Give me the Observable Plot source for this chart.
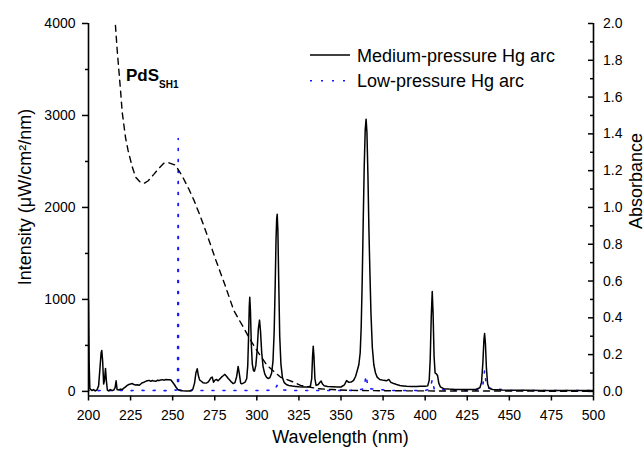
<!DOCTYPE html>
<html>
<head>
<meta charset="utf-8">
<script src="https://cdn.jsdelivr.net/npm/d3@7"></script>
<script src="https://cdn.jsdelivr.net/npm/@observablehq/plot@0.6"></script>
<style>
  html, body { margin: 0; padding: 0; background: #fff; }
  #chart { width: 644px; height: 454px; }
</style>
</head>
<body>
<div id="chart"></div>
<script>
// ---- Medium-pressure Hg arc (wavelength nm, intensity µW/cm²/nm)
const mediumWavelength = [
  200.0, 200.4, 200.8, 202, 203, 204, 205, 206, 206.8, 207.5, 207.9, 208.4, 209.0, 209.5, 210.1, 210.6, 211.2, 212, 213, 214,
  215, 215.8, 216.4, 217.0, 218, 219, 220, 221, 222, 223, 224, 225, 226, 227, 228, 229, 230, 231, 232, 233,
  234, 235, 236, 237, 238, 239, 240, 241, 242, 243, 244, 245, 246, 247, 248, 249, 250, 251, 252, 253,
  254, 255, 256, 258, 260, 261, 262, 263, 263.8, 264.6, 265.3, 266, 267, 268, 269, 270, 271, 272, 272.8, 273.5,
  274.3, 275, 276, 277, 278, 279, 280, 281, 282, 283, 284, 285, 286, 287, 288, 288.9, 289.7, 290.4, 291, 292,
  293, 294, 294.6, 295.1, 295.5, 295.8, 296.2, 296.7, 297.3, 298.0, 298.6, 299.4, 300.2, 300.9, 301.6, 302.2, 302.9, 303.7, 304.7, 305.7,
  306.8, 307.8, 308.8, 309.6, 310.3, 310.9, 311.4, 311.8, 312.1, 312.5, 313.0, 313.6, 314.3, 315.2, 316.3, 317.5, 319, 321, 323, 325,
  327, 330, 331.8, 332.6, 333.1, 333.5, 333.9, 334.5, 335.2, 336.5, 337.5, 338.2, 339, 340, 342, 345, 348, 350, 352, 353.3,
  354.5, 356, 357.5, 358.7, 359.7, 360.6, 361.4, 362.0, 362.6, 363.2, 363.8, 364.4, 364.9, 365.4, 366.0, 366.6, 367.1, 367.8, 368.6, 369.5,
  370.5, 371.5, 373, 375.4, 377, 378.4, 379.5, 381.4, 383, 385, 387, 389, 392, 395, 397, 400, 401.5, 402.4, 403.0, 403.6,
  404.2, 404.7, 405.3, 405.9, 406.7, 407.4, 408.1, 409, 411, 414, 418, 422, 426, 430, 432.5, 433.5, 434.3, 434.9, 435.3, 435.8,
  436.4, 437.1, 438.0, 440, 445, 450, 460, 470, 480, 490, 500
];
const mediumIntensity = [
  990, 300, 30, 10, 20, 5, 15, 60, 250, 420, 445, 330, 80, 120, 250, 120, 15, 5, 20, 8,
  15, 40, 115, 20, 15, 25, 20, 35, 50, 65, 75, 80, 85, 75, 70, 72, 66, 80, 95, 100,
  110, 115, 120, 110, 118, 112, 110, 122, 118, 125, 128, 122, 130, 127, 126, 124, 100, 75, 45, 22,
  12, 8, 6, 5, 5, 8, 25, 90, 200, 246, 170, 125, 110, 95, 92, 90, 100, 125, 150, 155,
  100, 120, 130, 115, 135, 155, 170, 185, 165, 140, 120, 100, 85, 95, 160, 272, 180, 90, 82, 90,
  100, 140, 280, 600, 920, 1025, 880, 520, 300, 225, 220, 280, 450, 680, 775, 650, 420, 270, 190, 155,
  140, 150, 200, 330, 650, 1150, 1650, 1880, 1925, 1750, 1200, 600, 300, 150, 95, 75, 65, 58, 54, 50,
  48, 47, 55, 140, 380, 490, 390, 140, 65, 75, 100, 112, 80, 62, 54, 50, 47, 48, 70, 118,
  100, 102, 120, 165, 230, 290, 420, 700, 1200, 1850, 2450, 2850, 2960, 2820, 2350, 1750, 1350, 850, 480, 290,
  200, 155, 130, 120, 115, 130, 100, 85, 75, 65, 60, 55, 54, 53, 55, 55, 60, 120, 350, 800,
  1085, 850, 380, 200, 190, 170, 90, 50, 30, 25, 22, 22, 22, 22, 40, 100, 320, 560, 630, 520,
  250, 80, 35, 20, 15, 13, 12, 11, 10, 10, 9
];

// ---- Low-pressure Hg arc (wavelength nm, intensity µW/cm²/nm)
const lowWavelength = [
  200, 205, 210, 215, 220, 225, 230, 235, 240, 245, 250, 252.9, 253.3, 253.5, 260, 270, 280, 290,
  300, 308, 310.8, 312.0, 313.2, 320, 330, 340, 350, 360, 363.6, 364.9, 366.2, 380, 390, 400, 403.0, 404.2, 405.4, 420,
  430, 434.1, 435.3, 436.5, 450, 470, 500
];
const lowIntensity = [
  10, 8, 12, 9, 11, 8, 12, 9, 11, 8, 12, 15, 2750, 15, 10, 10, 10, 10,
  10, 12, 20, 65, 20, 10, 10, 10, 10, 12, 30, 175, 30, 10, 10, 10, 25, 130, 25, 10,
  12, 40, 228, 40, 10, 10, 10
];

// ---- PdS_SH1 absorbance (wavelength nm, absorbance)
const absWavelength = [
  216.0, 217.0, 218.0, 219.0, 220.0, 222.0, 223.5, 226.0, 228.0, 230.5, 232.9, 235.5, 238.8, 241.5, 244.7, 247.7, 251.7, 255.7, 259.6, 262.6,
  266.5, 270.5, 275.4, 281.4, 286.3, 291.3, 296.2, 300.2, 306.2, 314.0, 322.0, 326.0, 336.0, 345.0, 354.0, 370.0, 390.0, 420.0, 450.0, 500.0
];
const absorbance = [
  1.99, 1.86, 1.75, 1.64, 1.52, 1.38, 1.31, 1.22, 1.165, 1.14, 1.13, 1.145, 1.18, 1.21, 1.24, 1.243, 1.23, 1.17, 1.10, 1.04,
  0.95, 0.85, 0.72, 0.57, 0.44, 0.36, 0.28, 0.22, 0.14, 0.078, 0.05, 0.033, 0.015, 0.01, 0.006, 0.004, 0.003, 0.002, 0.002, 0.0
];

// ---- axes
const xTicks = [200, 225, 250, 275, 300, 325, 350, 375, 400, 425, 450, 475, 500];
const intensityTicks = [0, 1000, 2000, 3000, 4000];
const intensityMinor = [500, 1500, 2500, 3500];
const absTicks = [0, 0.2, 0.4, 0.6, 0.8, 1.0, 1.2, 1.4, 1.6, 1.8, 2.0];
const absMinor = [0.1, 0.3, 0.5, 0.7, 0.9, 1.1, 1.3, 1.5, 1.7, 1.9];
const intensityDomain = [-50, 4000];
const xDomain = [200, 500];
const intensityPerAbs = 4000 / 2.0; // right axis 0–2.0 shares the left axis 0–4000

const medium = mediumWavelength.map((w, i) => ({w, v: mediumIntensity[i]}));
const low = lowWavelength.map((w, i) => ({w, v: lowIntensity[i]}));
const absData = absWavelength.map((w, i) => ({w, a: absorbance[i]}));

const FONT = "'Liberation Sans', Arial, Helvetica, sans-serif";
const DOT = 2, DOT_GAP = 9;

const plot = Plot.plot({
  width: 644,
  height: 454,
  marginLeft: 88,
  marginRight: 51,
  marginTop: 23,
  marginBottom: 58.5,
  x: {domain: xDomain},
  y: {domain: intensityDomain},
  style: {fontFamily: FONT, fontSize: "14px", color: "#000", background: "#fff", overflow: "visible"},
  marks: [
    Plot.axisX(xTicks, {anchor: "bottom", tickSize: 5, tickPadding: 9, label: null, strokeWidth: 1.5, fontSize: 14, tickFormat: d => String(d)}),
    Plot.axisY(intensityTicks, {anchor: "left", tickSize: 6, tickPadding: 7, label: null, strokeWidth: 1.5, fontSize: 14, tickFormat: d => String(d)}),
    Plot.axisY(intensityMinor, {anchor: "left", tickSize: 3, tickFormat: () => "", label: null, strokeWidth: 1.5}),
    Plot.axisY(absTicks.map(a => a * intensityPerAbs), {anchor: "right", tickSize: 0, tickPadding: 9.5, label: null, fontSize: 14,
      tickFormat: d => (d / intensityPerAbs).toFixed(1)}),
    Plot.ruleY(absTicks, {y: a => a * intensityPerAbs, x1: 500 - 5 / 1.6833, x2: 500, strokeWidth: 1.5}),
    Plot.ruleY(absMinor, {y: a => a * intensityPerAbs, x1: 500 - 3 / 1.6833, x2: 500, strokeWidth: 1.5}),
    Plot.line(low, {x: "w", y: "v", stroke: "#1a1aff", strokeWidth: 1.6, strokeDasharray: `${DOT},${DOT_GAP}`, clip: true}),
    Plot.line(absData, {x: "w", y: d => d.a * intensityPerAbs, stroke: "#000", strokeWidth: 1.4, strokeDasharray: "6,5", clip: true}),
    Plot.line(medium, {x: "w", y: "v", stroke: "#000", strokeWidth: 1.5, clip: true}),
    Plot.ruleX([xDomain[0], xDomain[1]], {y1: intensityDomain[0], y2: intensityDomain[1], stroke: "#000", strokeWidth: 1.6}),
    Plot.ruleY([intensityDomain[0]], {x1: xDomain[0], x2: xDomain[1], stroke: "#000", strokeWidth: 1.6})
  ]
});

const svg = d3.select(plot);
svg.selectAll("text").attr("fill", "#000");

// Align the dotted pattern so the up- and down-strokes of the 254 nm spike share the same dots
{
  const xs = plot.scale("x"), ys = plot.scale("y");
  const peakIndex = lowIntensity.indexOf(d3.max(lowIntensity));
  let len = 0;
  for (let i = 1; i <= peakIndex; i++) {
    const dx = xs.apply(lowWavelength[i]) - xs.apply(lowWavelength[i - 1]);
    const dy = ys.apply(lowIntensity[i]) - ys.apply(lowIntensity[i - 1]);
    len += Math.hypot(dx, dy);
  }
  const period = DOT + DOT_GAP;
  const offset = ((DOT / 2 - len) % period + period) % period;
  const lineGroups = svg.selectAll("g[aria-label='line']").nodes();
  if (lineGroups.length) d3.select(lineGroups[0]).selectAll("path").attr("stroke-dashoffset", offset);
}

// axis titles
svg.append("text").attr("x", 340.5).attr("y", 443).attr("text-anchor", "middle")
  .attr("font-family", FONT).attr("font-size", 18).attr("fill", "#000").text("Wavelength (nm)");
svg.append("text").attr("transform", "translate(31,197) rotate(-90)").attr("text-anchor", "middle")
  .attr("font-family", FONT).attr("font-size", 18).attr("fill", "#000").text("Intensity (μW/cm²/nm)");
svg.append("text").attr("transform", "translate(641.5,181) rotate(-90)").attr("text-anchor", "middle")
  .attr("font-family", FONT).attr("font-size", 18).attr("fill", "#000").text("Absorbance");

// legend
const lg = svg.append("g").attr("font-family", FONT).attr("font-size", 18).attr("fill", "#000").attr("text-anchor", "start");
lg.append("line").attr("x1", 310).attr("x2", 350).attr("y1", 55).attr("y2", 55).attr("stroke", "#000").attr("stroke-width", 1.5);
lg.append("text").attr("x", 357).attr("y", 61.5).attr("text-anchor", "start").text("Medium-pressure Hg arc");
lg.append("line").attr("x1", 310).attr("x2", 350).attr("y1", 80.7).attr("y2", 80.7).attr("stroke", "#1a1aff").attr("stroke-width", 1.6).attr("stroke-dasharray", `${DOT},${DOT_GAP}`);
lg.append("text").attr("x", 357).attr("y", 86.5).attr("text-anchor", "start").text("Low-pressure Hg arc");

// curve label
const lab = svg.append("text").attr("x", 126).attr("y", 81).attr("text-anchor", "start").attr("font-family", FONT).attr("font-weight", "bold").attr("font-size", 17).attr("fill", "#000");
lab.append("tspan").text("PdS");
lab.append("tspan").attr("font-size", 10).attr("dy", 6.5).text("SH1");

document.getElementById("chart").appendChild(plot);
</script>
</body>
</html>
